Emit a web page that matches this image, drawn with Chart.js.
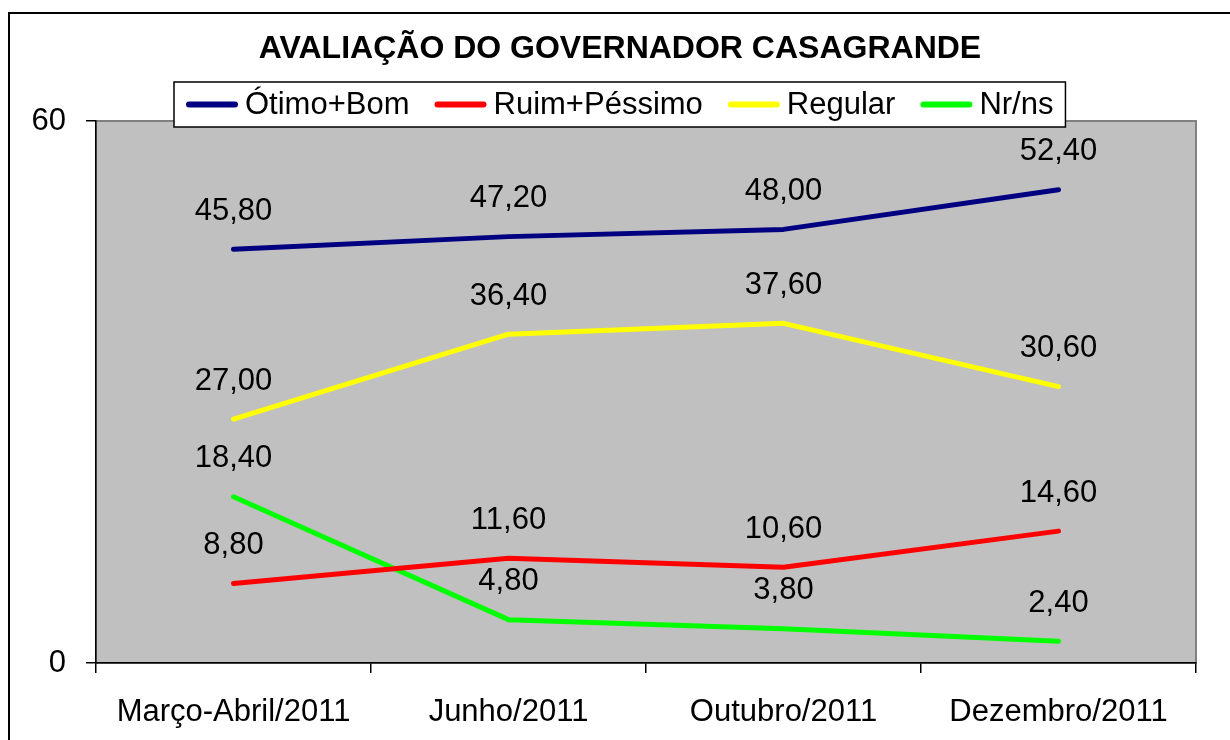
<!DOCTYPE html>
<html>
<head>
<meta charset="utf-8">
<script src="https://cdn.jsdelivr.net/npm/chart.js@4"></script>
<style>
  html, body { margin: 0; padding: 0; background: #fff; }
  #wrap { width: 1230px; height: 740px; }
</style>
</head>
<body>
<div id="wrap"><canvas id="chart"></canvas></div>
<script>
// data
const periodos = ['Março-Abril/2011', 'Junho/2011', 'Outubro/2011', 'Dezembro/2011']
const otimoBom = [45.8, 47.2, 48.0, 52.4]
const ruimPessimo = [8.8, 11.6, 10.6, 14.6]
const regular = [27.0, 36.4, 37.6, 30.6]
const nrNs = [18.4, 4.8, 3.8, 2.4]
const yTicks = [0, 60]

const FONT = '"Liberation Sans", Arial, sans-serif'
const titulo = 'AVALIAÇÃO DO GOVERNADOR CASAGRANDE'

const fmt = v => v.toFixed(2).replace('.', ',')

// background, frame and plot area
const fundo = {
  id: 'fundo',
  beforeDraw(chart) {
    const { ctx, chartArea: a } = chart
    ctx.save()
    ctx.strokeStyle = '#000'
    ctx.lineWidth = 2
    ctx.strokeRect(9, 13, 1240, 760)
    ctx.fillStyle = '#c0c0c0'
    ctx.fillRect(a.left, a.top, a.right - a.left, a.bottom - a.top)
    ctx.strokeStyle = '#808080'
    ctx.lineWidth = 2
    ctx.strokeRect(a.left, a.top, a.right - a.left, a.bottom - a.top)
    ctx.restore()
  }
}

// value labels above points
const rotulos = {
  id: 'rotulos',
  afterDatasetsDraw(chart) {
    const { ctx } = chart
    ctx.save()
    ctx.font = '31px ' + FONT
    ctx.fillStyle = '#000'
    ctx.textAlign = 'center'
    ctx.textBaseline = 'middle'
    chart.data.datasets.forEach((ds, i) => {
      chart.getDatasetMeta(i).data.forEach((pt, j) => {
        ctx.fillText(fmt(ds.data[j]), pt.x, pt.y - 38)
      })
    })
    ctx.restore()
  }
}

// title and boxed legend
const tituloLegenda = {
  id: 'tituloLegenda',
  afterDraw(chart) {
    const { ctx } = chart
    ctx.save()
    ctx.fillStyle = '#000'
    ctx.font = 'bold 32px ' + FONT
    ctx.textAlign = 'center'
    ctx.textBaseline = 'middle'
    ctx.fillText(titulo, 620, 49)

    ctx.font = '31px ' + FONT
    const lineW = 52, gap = 7, itemGap = 25, pad = 12
    const items = chart.data.datasets.map(ds => ({ ds, w: ctx.measureText(ds.label).width }))
    const total = items.reduce((s, it) => s + lineW + gap + it.w, 0) + itemGap * (items.length - 1) + pad * 2
    const left = 174, top = 82, h = 45
    ctx.fillStyle = '#fff'
    ctx.fillRect(left, top, total, h)
    ctx.strokeStyle = '#000'
    ctx.lineWidth = 1.5
    ctx.strokeRect(left, top, total, h)

    let x = left + pad
    const cy = top + h / 2
    ctx.textAlign = 'left'
    items.forEach(it => {
      ctx.strokeStyle = it.ds.borderColor
      ctx.lineWidth = 6
      ctx.lineCap = 'round'
      ctx.beginPath()
      ctx.moveTo(x + 3, cy)
      ctx.lineTo(x + lineW - 3, cy)
      ctx.stroke()
      x += lineW + gap
      ctx.fillStyle = '#000'
      ctx.fillText(it.ds.label, x, cy + 1)
      x += it.w + itemGap
    })
    ctx.restore()
  }
}

const serie = (label, data, color) => ({
  label,
  data,
  borderColor: color,
  backgroundColor: color,
  borderWidth: 5,
  borderCapStyle: 'round',
  borderJoinStyle: 'round',
  pointRadius: 0,
  tension: 0,
  clip: false
})

new Chart(document.getElementById('chart'), {
  type: 'line',
  data: {
    labels: periodos,
    datasets: [
      serie('Ótimo+Bom', otimoBom, '#000080'),
      serie('Ruim+Péssimo', ruimPessimo, '#ff0000'),
      serie('Regular', regular, '#ffff00'),
      serie('Nr/ns', nrNs, '#00ff00')
    ]
  },
  options: {
    responsive: true,
    maintainAspectRatio: false,
    animation: false,
    layout: { padding: { top: 121, right: 34, left: 0, bottom: 0 } },
    plugins: {
      legend: { display: false },
      title: { display: false },
      tooltip: { enabled: false }
    },
    scales: {
      x: {
        offset: true,
        grid: { offset: true, drawOnChartArea: false, drawTicks: true, tickLength: 10, color: '#000', lineWidth: 1.5 },
        border: { color: '#000', width: 1.5 },
        ticks: { color: '#000', font: { family: FONT, size: 31 }, padding: 21, maxRotation: 0, autoSkip: false },
        afterFit: s => { s.height = 77 }
      },
      y: {
        min: yTicks[0],
        max: yTicks[yTicks.length - 1],
        afterBuildTicks: s => { s.ticks = yTicks.map(v => ({ value: v })) },
        grid: { drawOnChartArea: false, drawTicks: true, tickLength: 10, color: '#000', lineWidth: 1.5 },
        border: { color: '#000', width: 1.5 },
        ticks: { color: '#000', font: { family: FONT, size: 31 }, padding: 20 },
        afterFit: s => { s.width = 96 }
      }
    }
  },
  plugins: [fundo, rotulos, tituloLegenda]
})
</script>
</body>
</html>
